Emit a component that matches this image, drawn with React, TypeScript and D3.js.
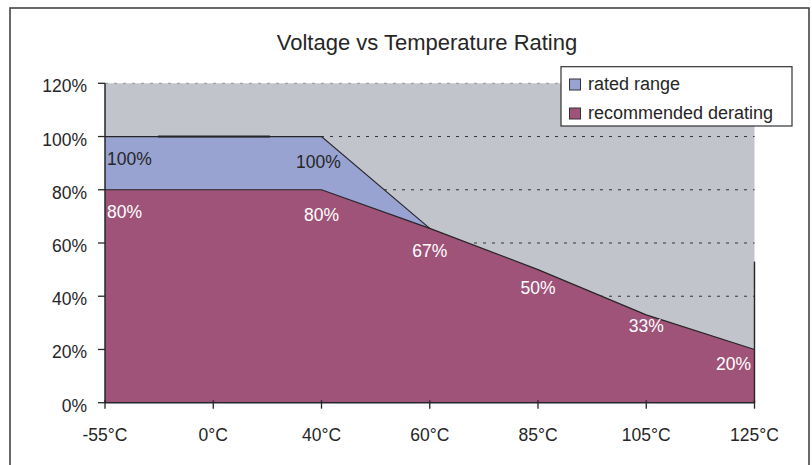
import React from "react";
import * as d3 from "d3";

const categories = ["-55°C", "0°C", "40°C", "60°C", "85°C", "105°C", "125°C"];
const ratedRange = [100, 100, 100, 65.5, 50, 33, 20];
const recommendedDerating = [80, 80, 80, 65.5, 50, 33, 20];
const ratedLabels = ["100%", null, "100%", null, null, null, null];
const deratingLabels = ["80%", null, "80%", "67%", "50%", "33%", "20%"];
const yTicks = [0, 20, 40, 60, 80, 100, 120];
const seriesNames = ["rated range", "recommended derating"];

const W = 812;
const H = 465;
const FONT = "'Liberation Sans', Arial, Helvetica, sans-serif";
const GRAY = "#c1c4cb";
const BLUE = "#98a3d2";
const PURPLE = "#a05378";
const INK = "#262626";
// vertical offsets (px) of the data labels below their points
const LABEL_DY = [28, 28, 31, 28.5, 24.5, 17, 21];

export default function App() {
  const x = d3.scalePoint<string>().domain(categories).range([105, 754.5]).padding(0);
  const y = d3.scaleLinear().domain([0, 120]).range([402.7, 83.3]);
  const x0 = x.range()[0];
  const x1 = x.range()[1];

  const area = d3
    .area<number>()
    .x((_, i) => x(categories[i]) as number)
    .y0(y(0))
    .y1((d) => y(d));
  const line = d3
    .line<number>()
    .x((_, i) => x(categories[i]) as number)
    .y((d) => y(d));

  const labelX = (i: number, shift: number) => {
    if (i === 0) return { x: (x(categories[i]) as number) + 2, anchor: "start" };
    if (i === categories.length - 1) return { x: (x(categories[i]) as number) - 3.5, anchor: "end" };
    return { x: (x(categories[i]) as number) + shift, anchor: "middle" };
  };

  return (
    <svg width={W} height={H} style={{ position: "absolute", left: 0, top: 0 }} fontFamily={FONT}>
      <rect x={0} y={0} width={W} height={H} fill="#fff" />
      <rect x={10} y={8} width={799} height={470} fill="#fff" stroke="#444" strokeWidth={1.6} />
      <text x={427} y={50} textAnchor="middle" fontSize={22} fill={INK}>
        Voltage vs Temperature Rating
      </text>

      {/* plot background */}
      <rect x={x0} y={y(120)} width={x1 - x0} height={y(0) - y(120)} fill={GRAY} />

      {/* gridlines */}
      <line x1={x0} x2={x1} y1={y(120)} y2={y(120)} stroke="#8f939a" strokeWidth={1} strokeDasharray="3 6" />
      {yTicks
        .filter((t) => t > 0 && t < 120)
        .map((t) => (
          <line key={t} x1={x0} x2={x1} y1={y(t)} y2={y(t)} stroke="#333" strokeWidth={1} strokeDasharray="3 6" />
        ))}

      {/* areas */}
      <path d={area(ratedRange) as string} fill={BLUE} />
      <path d={area(recommendedDerating) as string} fill={PURPLE} />
      <path d={line(ratedRange.slice(0, 4)) as string} fill="none" stroke={INK} strokeWidth={1.2} />
      <path d={line(recommendedDerating) as string} fill="none" stroke={INK} strokeWidth={1.2} />
      <line x1={158} x2={270} y1={y(100)} y2={y(100)} stroke={INK} strokeWidth={2} />
      <line x1={x1} x2={x1} y1={y(53)} y2={y(0)} stroke={INK} strokeWidth={1.4} />

      {/* data labels */}
      {ratedLabels.map((t, i) => {
        if (!t) return null;
        const p = labelX(i, -3);
        return (
          <text key={"r" + i} x={p.x} y={y(ratedRange[i]) + LABEL_DY[i]} textAnchor={p.anchor} fontSize={17.5} fill={INK}>
            {t}
          </text>
        );
      })}
      {deratingLabels.map((t, i) => {
        if (!t) return null;
        const p = labelX(i, 0);
        return (
          <text key={"d" + i} x={p.x} y={y(recommendedDerating[i]) + LABEL_DY[i]} textAnchor={p.anchor} fontSize={17.5} fill="#fff">
            {t}
          </text>
        );
      })}

      {/* axes */}
      <line x1={x0} x2={x0} y1={y(120)} y2={y(0)} stroke={INK} strokeWidth={1.5} />
      <line x1={x0} x2={x1} y1={y(0)} y2={y(0)} stroke={INK} strokeWidth={1.5} />
      {yTicks.map((t) => (
        <g key={t}>
          <line x1={98} x2={x0} y1={y(t)} y2={y(t)} stroke={INK} strokeWidth={1.3} />
          <text x={87} y={y(t) + 9} textAnchor="end" fontSize={17.5} fill={INK}>
            {t}%
          </text>
        </g>
      ))}
      {categories.map((c) => (
        <g key={c}>
          <line x1={x(c)} x2={x(c)} y1={y(0) - 2.5} y2={y(0) + 6} stroke={INK} strokeWidth={1.3} />
          <text x={x(c)} y={441} textAnchor="middle" fontSize={17.5} fill={INK}>
            {c}
          </text>
        </g>
      ))}

      {/* legend */}
      <rect x={561} y={66.7} width={231} height={59.3} fill="#fff" stroke="#333" strokeWidth={1.2} />
      {seriesNames.map((n, i) => (
        <g key={n}>
          <rect x={569.5} y={79 + i * 29} width={11} height={11} fill={i === 0 ? BLUE : PURPLE} stroke="#333" strokeWidth={1} />
          <text x={588} y={90 + i * 29} fontSize={18} fill={INK}>
            {n}
          </text>
        </g>
      ))}
    </svg>
  );
}
